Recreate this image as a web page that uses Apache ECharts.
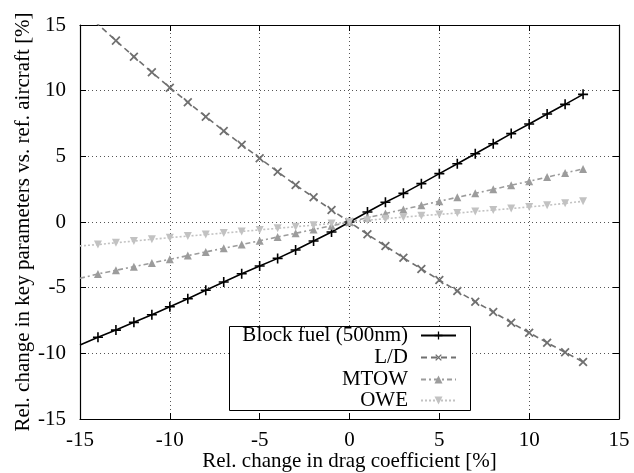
<!DOCTYPE html>
<html>
<head>
<meta charset="utf-8">
<script src="https://cdn.jsdelivr.net/npm/echarts@6/dist/echarts.min.js"></script>
<style>
  html, body { margin: 0; padding: 0; background: #fff; }
  #chart-container { width: 634px; height: 473px; }
</style>
</head>
<body>
<div id="chart-container"></div>
<script>
var dom = document.getElementById('chart-container');
var myChart = echarts.init(dom, null, { renderer: 'canvas' });

// x positions: relative change in drag coefficient [%]
var dragChange = [-15, -14, -13, -12, -11, -10, -9, -8, -7, -6, -5, -4, -3, -2, -1,
    0, 1, 2, 3, 4, 5, 6, 7, 8, 9, 10, 11, 12, 13];

var blockFuel = [-9.37, -8.78, -8.23, -7.64, -7.06, -6.45, -5.84, -5.2, -4.57, -3.94, -3.35, -2.77, -2.13, -1.45, -0.76,
    0, 0.76, 1.5, 2.18, 2.92, 3.68, 4.44, 5.2, 5.96, 6.73, 7.46, 8.22, 8.96, 9.72];
var liftDrag = [16.3, 15.05, 13.81, 12.59, 11.4, 10.23, 9.12, 8.02, 6.93, 5.89, 4.85, 3.83, 2.82, 1.88, 0.91,
    0, -0.94, -1.83, -2.72, -3.58, -4.42, -5.26, -6.07, -6.85, -7.67, -8.43, -9.19, -9.92, -10.66];
var mtow = [-4.29, -3.95, -3.68, -3.4, -3.12, -2.84, -2.56, -2.28, -2.0, -1.72, -1.43, -1.14, -0.86, -0.57, -0.29,
    0, 0.33, 0.64, 0.96, 1.27, 1.58, 1.88, 2.18, 2.49, 2.8, 3.1, 3.42, 3.73, 4.04];
var owe = [-1.82, -1.72, -1.58, -1.45, -1.32, -1.19, -1.07, -0.96, -0.84, -0.72, -0.6, -0.48, -0.36, -0.24, -0.12,
    0, 0.13, 0.25, 0.37, 0.48, 0.58, 0.68, 0.8, 0.91, 1.02, 1.15, 1.27, 1.42, 1.58];

var seriesNames = ['Block fuel (500nm)', 'L/D', 'MTOW', 'OWE'];
var axisTicks = [-15, -10, -5, 0, 5, 10, 15];

var plusPath = 'path://M4.2,0H5.8V4.2H10V5.8H5.8V10H4.2V5.8H0V4.2H4.2Z';
var serifFont = '"Liberation Serif", "DejaVu Serif", serif';
var fontSize = 21;

// first point (x = -15) has no marker, like the original plot
function pairs(ys, hideUntil) {
    return dragChange.map(function (x, i) {
        var p = { value: [x, ys[i]] };
        if (i < hideUntil) p.symbol = 'none';
        return p;
    });
}

function makeAxis(pos, isX, main) {
    return {
        type: 'value',
        position: pos,
        min: axisTicks[0],
        max: axisTicks[axisTicks.length - 1],
        interval: 5,
        axisLine: { show: true, onZero: false, lineStyle: { color: '#000', width: 1.2 } },
        axisTick: { show: true, inside: true, length: 6, lineStyle: { color: '#000' } },
        axisLabel: {
            show: main,
            margin: isX ? 11 : 14,
            color: '#000',
            fontFamily: serifFont,
            fontSize: fontSize
        },
        splitLine: { show: main, lineStyle: { color: '#555', type: [1, 3], width: 1 } }
    };
}

var xMain = makeAxis('bottom', true, true);
xMain.name = 'Rel. change in drag coefficient [%]';
xMain.nameLocation = 'middle';
xMain.nameGap = 32;
xMain.nameMoveOverlap = false;
xMain.nameTextStyle = { color: '#000', fontFamily: serifFont, fontSize: fontSize };

var yMain = makeAxis('left', false, true);
yMain.name = 'Rel. change in key parameters vs. ref. aircraft [%]';
yMain.nameLocation = 'middle';
yMain.nameGap = 46;
yMain.nameMoveOverlap = false;
yMain.nameTextStyle = { color: '#000', fontFamily: serifFont, fontSize: fontSize };

var legendRows = [336, 358, 380, 401];
var legends = seriesNames.map(function (name, i) {
    return {
        data: [name],
        orient: 'vertical',
        right: 177,
        top: legendRows[i] - 11,
        align: 'right',
        itemWidth: 35,
        itemHeight: 10,
        padding: 0,
        z: 6,
        textStyle: {
            color: '#000',
            fontFamily: serifFont,
            fontSize: fontSize,
            padding: [0, 8, 0, 0]
        }
    };
});

var option = {
    animation: false,
    backgroundColor: '#fff',
    grid: { left: 80, right: 15, top: 25, bottom: 54, containLabel: false, outerBoundsMode: 'none' },
    xAxis: [xMain, makeAxis('top', true, false)],
    yAxis: [yMain, makeAxis('right', false, false)],
    legend: legends,
    graphic: [{
        type: 'rect',
        z: 5,
        shape: { x: 229.5, y: 326.5, width: 241, height: 84 },
        style: { fill: '#fff', stroke: '#000', lineWidth: 1 }
    }],
    series: [
        {
            name: seriesNames[0],
            type: 'line',
            data: pairs(blockFuel, 1),
            symbol: plusPath,
            symbolSize: 10,
            itemStyle: { color: '#000' },
            lineStyle: { color: '#000', width: 1.6 }
        },
        {
            name: seriesNames[1],
            type: 'line',
            data: pairs(liftDrag, 2),
            symbol: plusPath,
            symbolRotate: 45,
            symbolSize: 11,
            itemStyle: { color: '#707070' },
            lineStyle: { color: '#707070', width: 1.6, type: [6, 4] }
        },
        {
            name: seriesNames[2],
            type: 'line',
            data: pairs(mtow, 1),
            symbol: 'triangle',
            symbolSize: 8,
            itemStyle: { color: '#9c9c9c' },
            lineStyle: { color: '#9c9c9c', width: 1.6, type: [5, 3, 2, 3] }
        },
        {
            name: seriesNames[3],
            type: 'line',
            data: pairs(owe, 1),
            symbol: 'triangle',
            symbolRotate: 180,
            symbolSize: 8,
            itemStyle: { color: '#c2c2c2' },
            lineStyle: { color: '#c2c2c2', width: 1.6, type: [2, 2] }
        }
    ]
};

myChart.setOption(option);
window.addEventListener('resize', myChart.resize);
</script>
</body>
</html>
